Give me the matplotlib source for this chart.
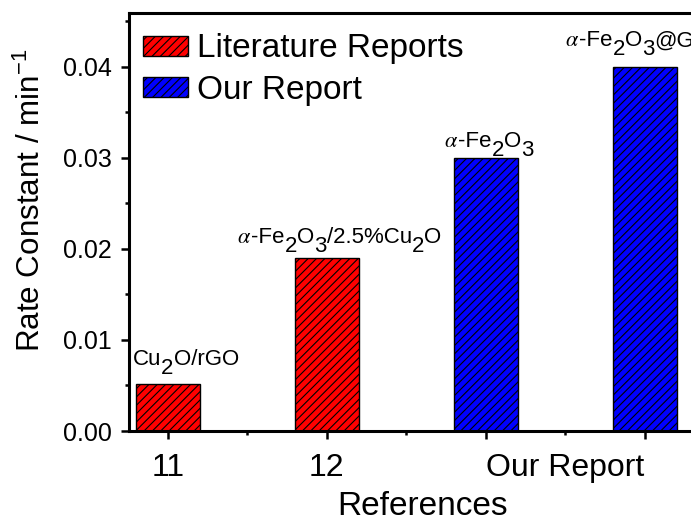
import matplotlib
matplotlib.use('Agg')
import matplotlib.pyplot as plt
from matplotlib.ticker import MultipleLocator, FixedLocator

plt.rcParams['font.family'] = ['Liberation Sans', 'DejaVu Sans']
plt.rcParams['hatch.linewidth'] = 0.8

# rate constants (min^-1)
lit_x = [1, 2]
lit_k = [0.0052, 0.019]
our_x = [3, 4]
our_k = [0.030, 0.040]

tick_labels = ['11', '12']
our_tick_label = 'Our Report'
# "_" marks the next character as a subscript, "α" is drawn italic
bar_names = ['Cu_2O/rGO', 'α-Fe_2O_3/2.5%Cu_2O', 'α-Fe_2O_3', 'α-Fe_2O_3@GO']
name_x = [0.78, 1.434, 2.736, 3.497]     # left edge of each name
name_dy = [9.6, 7.4, 4.5, 11]            # points above bar top


def split_name(name):
    parts = []
    buf = ''
    i = 0
    while i < len(name):
        c = name[i]
        if c == '_':
            if buf:
                parts.append((buf, 'n'))
                buf = ''
            parts.append((name[i + 1], 'sub'))
            i += 2
            continue
        if c == 'α':
            if buf:
                parts.append((buf, 'n'))
                buf = ''
            parts.append((r'$\alpha$', 'greek'))
            i += 1
            continue
        buf += c
        i += 1
    if buf:
        parts.append((buf, 'n'))
    return parts


def draw_name(ax, x, y, dy, name, size=16):
    prev = None
    prev_shift = 0
    for s, kind in split_name(name):
        shift = -6.5 if kind == 'sub' else 0
        kw = dict(fontsize=size, ha='left', va='bottom', textcoords='offset points')
        if kind == 'greek':
            kw['math_fontfamily'] = 'stix'
        if prev is None:
            prev = ax.annotate(s, xy=(x, y), xytext=(0, dy + shift), **kw)
        else:
            prev = ax.annotate(s, xy=(1, 0), xycoords=prev,
                               xytext=(0, shift - prev_shift), **kw)
        prev_shift = shift


fig = plt.figure(figsize=(6.91, 5.17), dpi=100)
ax = fig.add_axes([0.1867, 0.1663, 0.827, 0.8086])

ax.bar(lit_x, lit_k, width=0.4, color='#ff0000', edgecolor='black',
       linewidth=1, hatch='////', label='Literature Reports')
ax.bar(our_x, our_k, width=0.4, color='#0000ff', edgecolor='black',
       linewidth=1, hatch='////', label='Our Report')

for x, k, dy, name in zip(name_x, lit_k + our_k, name_dy, bar_names):
    draw_name(ax, x, k, dy, name)

ax.set_xlim(0.755, 4.35)
ax.set_ylim(0, 0.0459)

ax.yaxis.set_major_locator(MultipleLocator(0.01))
ax.yaxis.set_minor_locator(MultipleLocator(0.005))
ax.yaxis.set_major_formatter(plt.FormatStrFormatter('%.2f'))

ax.set_xticks(lit_x + our_x)
ax.set_xticklabels(tick_labels + ['', ''])
ax.xaxis.set_minor_locator(FixedLocator([1.5, 2.5, 3.5]))
ax.set_xticks([1.5, 2.5, 3.5], ['', '', our_tick_label], minor=True)

ax.tick_params(axis='y', which='major', direction='out', length=5.5, width=1.8,
               labelsize=18, pad=7)
ax.tick_params(axis='y', which='minor', direction='out', length=3, width=1.8)
ax.tick_params(axis='x', which='major', direction='out', length=6, width=1.8,
               labelsize=23, pad=10)
ax.tick_params(axis='x', which='minor', direction='out', length=3, width=1.8,
               labelsize=23, pad=13)

for side in ['left', 'bottom', 'top', 'right']:
    ax.spines[side].set_linewidth(2.2)

ax.set_xlabel('References', fontsize=24)
ax.xaxis.set_label_coords(0.514, -0.143)
ax.set_ylabel(r'Rate Constant / min$^{\mathregular{-1}}$', fontsize=22.6)
ax.yaxis.set_label_coords(-0.143, 0.553)

ax.legend(loc='upper left', bbox_to_anchor=(0.0245, 0.951), frameon=False,
          fontsize=24, borderpad=0, borderaxespad=0, handlelength=1.36,
          handleheight=0.55, handletextpad=0.25, labelspacing=0.32)

fig.savefig('out.png', dpi=100)
